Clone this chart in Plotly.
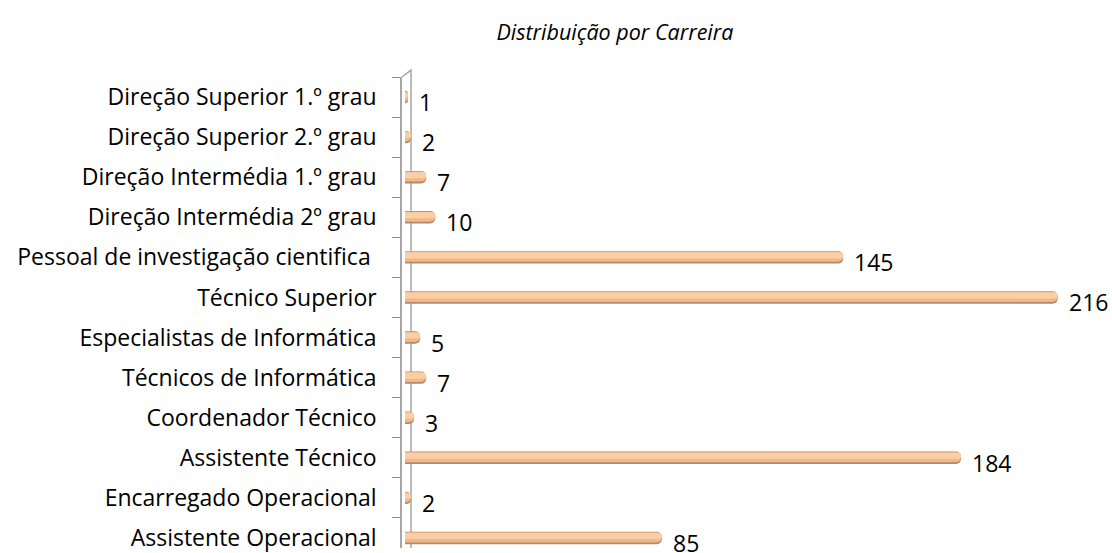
import plotly.graph_objects as go

categories = [
    "Direção Superior 1.º grau",
    "Direção Superior 2.º grau",
    "Direção Intermédia 1.º grau",
    "Direção Intermédia 2º grau",
    "Pessoal de investigação cientifica ",
    "Técnico Superior",
    "Especialistas de Informática",
    "Técnicos de Informática",
    "Coordenador Técnico",
    "Assistente Técnico",
    "Encarregado Operacional",
    "Assistente Operacional",
]
values = [1, 2, 7, 10, 145, 216, 5, 7, 3, 184, 2, 85]

FONT = "Open Sans"
FS = 23

fig = go.Figure()
# cylinder look: darker edge, peach body, light highlight
fig.add_trace(go.Bar(
    x=values, y=categories, orientation="h", width=0.31,
    marker=dict(color="#B08A70", cornerradius=5, line=dict(width=0)),
    hoverinfo="skip", showlegend=False,
))
fig.add_trace(go.Bar(
    x=values, y=categories, orientation="h", width=0.25, offset=-0.14,
    marker=dict(color="#F2B784", cornerradius=5, line=dict(width=0)),
    hoverinfo="skip", showlegend=False,
))
fig.add_trace(go.Bar(
    x=values, y=categories, orientation="h", width=0.15, offset=-0.125,
    marker=dict(color="#FBCFA6", cornerradius=4, line=dict(width=0)),
    hoverinfo="skip", showlegend=False,
))

for c, v in zip(categories, values):
    fig.add_annotation(
        x=v, y=c, text=str(v), showarrow=False, xanchor="left",
        xshift=9, yshift=-5, font=dict(family=FONT, size=FS, color="#000000"),
    )

fig.update_layout(
    width=1112, height=553,
    margin=dict(l=402, r=12, t=77, b=0),
    paper_bgcolor="white", plot_bgcolor="white",
    barmode="overlay",
    font=dict(family=FONT, size=FS, color="#000000"),
    title=dict(
        text="Distribuição por Carreira", x=0.553, xanchor="center",
        y=1 - 32 / 553, yanchor="middle",
        font=dict(family=FONT, size=21.5, color="#000000", style="italic"),
    ),
    xaxis=dict(range=[-1, 230], visible=False, showgrid=False, zeroline=False),
    yaxis=dict(
        type="category", categoryorder="array", categoryarray=categories,
        range=[11.25, -0.5], tickson="boundaries", ticks="outside",
        ticklen=8, tickcolor="#8C8C8C", tickwidth=1.2,
        showline=True, linecolor="#A6A6A6", linewidth=1.5,
        showgrid=False, zeroline=False, ticklabelstandoff=19,
        tickfont=dict(family=FONT, size=FS, color="#000000"),
    ),
    shapes=[
        dict(type="path", xref="paper", yref="paper",
             path="M 0 1 L 0.0129 1.0147 L 0.0129 0",
             line=dict(color="#A6A6A6", width=1.5), layer="below"),
    ],
)

fig.write_html("out.html", config={"displayModeBar": False},
               post_script="document.body.style.margin='0';")
